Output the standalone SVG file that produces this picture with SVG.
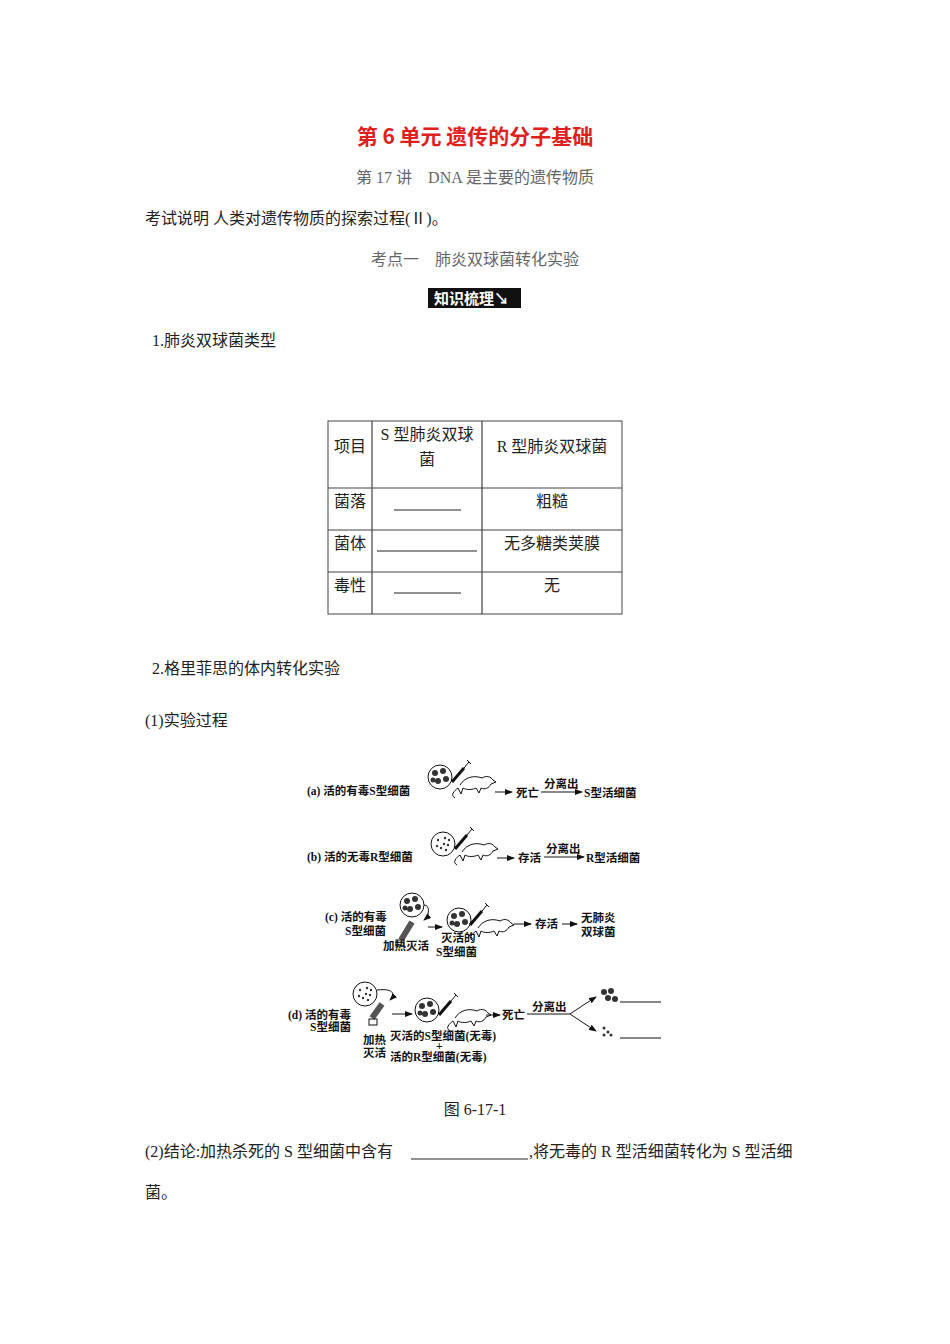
<svg xmlns="http://www.w3.org/2000/svg" width="950" height="1344" viewBox="0 0 950 1344">
<style>
text{font-family:"Liberation Serif","Noto Sans CJK SC",serif;font-size:16px;fill:#222}
.t{font-family:"Noto Sans CJK SC",sans-serif;font-size:21px;font-weight:bold;fill:#e0201c}
.g{fill:#666}
.f{font-size:11.5px;font-weight:bold;fill:#111}
.ln{stroke:#444;stroke-width:1.2;fill:none}
.b{stroke:#111;stroke-width:1;fill:none}
</style>
<defs>
<marker id="ar" markerWidth="8" markerHeight="6" refX="7" refY="3" orient="auto"><path d="M0,0 L8,3 L0,6 Z" fill="#111"/></marker>
<g id="mouse"><path class="b" d="M0,0 C5,-8 14,-10 22,-7 C27,-10 31,-8 33,-5 L36,-3 L31,-1 C29,3 25,5 21,3 L19,8 L16,3 C12,5 6,5 3,3 L1,9 L-2,3 C-6,6 -10,10 -5,13"/></g>
<g id="syr"><path d="M0,0 L12,-14" stroke="#111" stroke-width="3"/><path class="b" d="M12,-14 L17,-20 M15,-22 L19,-18"/></g>
<g id="dishS"><circle r="12" class="b"/><circle cx="-5" cy="-4" r="3" fill="#333"/><circle cx="3" cy="-6" r="3" fill="#333"/><circle cx="6" cy="2" r="3" fill="#333"/><circle cx="-2" cy="4" r="3" fill="#333"/><circle cx="-7" cy="3" r="2.5" fill="#333"/></g>
<g id="dishR"><circle r="12" class="b"/><g fill="#333"><circle cx="-5" cy="-4" r="1.2"/><circle cx="2" cy="-6" r="1.2"/><circle cx="5" cy="1" r="1.2"/><circle cx="-2" cy="4" r="1.2"/><circle cx="-6" cy="2" r="1.2"/><circle cx="1" cy="0" r="1.2"/><circle cx="6" cy="-4" r="1.2"/><circle cx="3" cy="6" r="1.2"/></g></g>
</defs>
<text class="t" x="475" y="144" text-anchor="middle">第 6 单元  遗传的分子基础</text>
<text class="g" x="475" y="183" text-anchor="middle" xml:space="preserve">第 17 讲    DNA 是主要的遗传物质</text>
<text x="145" y="224">考试说明  人类对遗传物质的探索过程(Ⅱ)。</text>
<text class="g" x="475" y="265" text-anchor="middle" xml:space="preserve">考点一    肺炎双球菌转化实验</text>
<g id="badge"><rect x="428" y="288" width="93" height="20" fill="#111"/><text x="434" y="304" style="fill:#fff;font-family:'Noto Sans CJK SC',sans-serif;font-size:15px;font-weight:bold">知识梳理↘</text></g>
<text x="152" y="346">1.肺炎双球菌类型</text>
<g id="table">
<rect x="328" y="421" width="294" height="193" fill="none" stroke="#444"/>
<path class="ln" d="M372,421V614 M482,421V614 M328,488H622 M328,530H622 M328,572H622"/>
<text x="334" y="452">项目</text>
<text x="427" y="440" text-anchor="middle">S 型肺炎双球</text>
<text x="427" y="465" text-anchor="middle">菌</text>
<text x="552" y="452" text-anchor="middle">R 型肺炎双球菌</text>
<text x="334" y="507">菌落</text><text x="552" y="507" text-anchor="middle">粗糙</text>
<text x="334" y="549">菌体</text><text x="552" y="549" text-anchor="middle">无多糖类荚膜</text>
<text x="334" y="591">毒性</text><text x="552" y="591" text-anchor="middle">无</text>
<path stroke="#222" d="M394,510H461 M377,551H477 M394,593H461"/>
</g>
<text x="152" y="674">2.格里菲思的体内转化实验</text>
<text x="145" y="726">(1)实验过程</text>
<g id="figure">
<text class="f" x="307" y="795">(a) 活的有毒S型细菌</text>
<use href="#dishS" x="440" y="777"/><use href="#syr" x="452" y="782"/><use href="#mouse" x="460" y="785"/>
<path class="b" d="M495,792H512" marker-end="url(#ar)"/><text class="f" x="516" y="797">死亡</text>
<text class="f" x="544" y="788">分离出</text><path class="b" d="M541,792H582" marker-end="url(#ar)"/>
<text class="f" x="584" y="797">S型活细菌</text>
<text class="f" x="307" y="861">(b) 活的无毒R型细菌</text>
<use href="#dishR" x="443" y="844"/><use href="#syr" x="455" y="849"/><use href="#mouse" x="462" y="852"/>
<path class="b" d="M497,858H514" marker-end="url(#ar)"/><text class="f" x="518" y="862">存活</text>
<text class="f" x="546" y="853">分离出</text><path class="b" d="M544,857H584" marker-end="url(#ar)"/>
<text class="f" x="586" y="862">R型活细菌</text>
<text class="f" x="325" y="921">(c) 活的有毒</text><text class="f" x="345" y="935">S型细菌</text>
<use href="#dishS" x="412" y="905"/><path d="M412,922L401,940" stroke="#555" stroke-width="6"/><path class="b" d="M424,905 C430,905 430,915 424,920" marker-end="url(#ar)"/>
<rect x="396" y="940" width="8" height="6" class="b"/>
<text class="f" x="383" y="950">加热灭活</text>
<path class="b" d="M428,927H442" marker-end="url(#ar)"/>
<use href="#dishS" x="459" y="920"/><use href="#syr" x="470" y="925"/><use href="#mouse" x="478" y="928"/>
<text class="f" x="441" y="942">灭活的</text><text class="f" x="436" y="956">S型细菌</text>
<path class="b" d="M514,924H531" marker-end="url(#ar)"/><text class="f" x="535" y="928">存活</text>
<path class="b" d="M562,924H577" marker-end="url(#ar)"/>
<text class="f" x="581" y="922">无肺炎</text><text class="f" x="581" y="936">双球菌</text>
<use href="#dishR" x="365" y="994"/><path d="M382,1004L372,1018" stroke="#555" stroke-width="6"/><path class="b" d="M377,990 C395,988 395,995 390,1000" marker-end="url(#ar)"/>
<rect x="369" y="1019" width="8" height="6" class="b"/>
<text class="f" x="288" y="1019">(d) 活的有毒</text><text class="f" x="310" y="1031">S型细菌</text>
<text class="f" x="363" y="1044">加热</text><text class="f" x="363" y="1057">灭活</text>
<path class="b" d="M392,1014H412" marker-end="url(#ar)"/>
<use href="#dishS" x="427" y="1010"/><use href="#syr" x="439" y="1015"/><use href="#mouse" x="455" y="1018"/>
<path class="b" d="M486,1015H500" marker-end="url(#ar)"/><text class="f" x="502" y="1019">死亡</text>
<text class="f" x="532" y="1011">分离出</text><path class="b" d="M527,1014H570 L585,1004 M570,1014 L585,1024"/>
<path class="b" d="M585,1004L596,997" marker-end="url(#ar)"/><path class="b" d="M585,1024L596,1031" marker-end="url(#ar)"/>
<g fill="#333"><circle cx="604" cy="992" r="3"/><circle cx="611" cy="991" r="3"/><circle cx="608" cy="998" r="3"/><circle cx="615" cy="999" r="3"/><circle cx="604" cy="1028" r="1.5"/><circle cx="608" cy="1032" r="1.5"/><circle cx="604" cy="1035" r="1.5"/><circle cx="611" cy="1035" r="1.5"/></g>
<path stroke="#111" d="M620,1002H661 M620,1038H661"/>
<text class="f" x="390" y="1040">灭活的S型细菌(无毒)</text><text class="f" x="436" y="1050">+</text>
<text class="f" x="390" y="1061">活的R型细菌(无毒)</text>
</g>
<text x="475" y="1115" text-anchor="middle">图 6-17-1</text>
<text x="145" y="1157">(2)结论:加热杀死的 S 型细菌中含有</text><path stroke="#222" d="M411,1159H528"/>
<text x="529" y="1157">,将无毒的 R 型活细菌转化为 S 型活细</text>
<text x="145" y="1198">菌。</text>
</svg>
